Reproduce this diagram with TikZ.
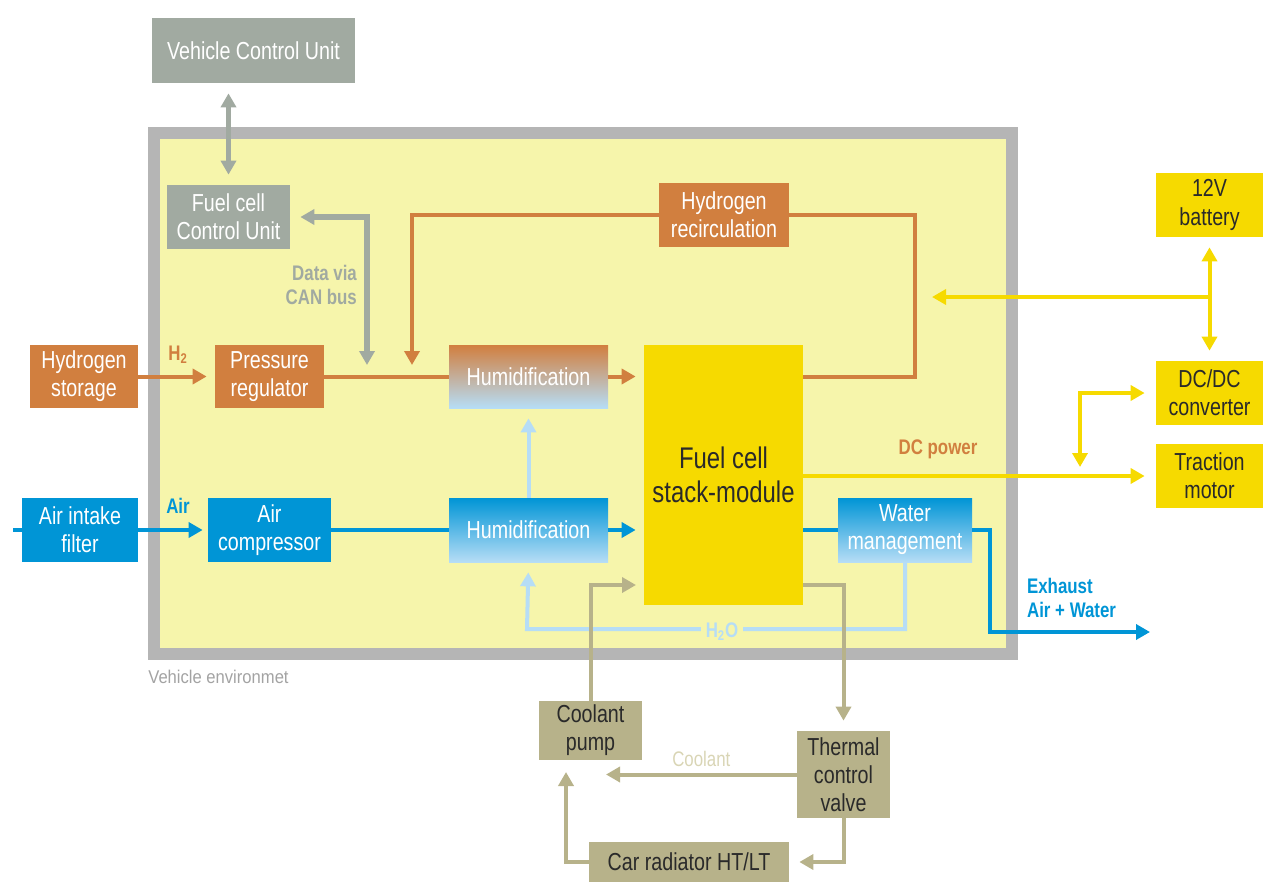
\documentclass[tikz,border=0pt]{standalone}
\usepackage{fontspec}
\setmainfont{Liberation Sans}[FakeStretch=0.8]
\newfontfamily\envfont{Liberation Sans}[FakeStretch=0.9]
\usetikzlibrary{arrows.meta}
\definecolor{envyellow}{HTML}{F6F5AB}
\definecolor{envgray}{HTML}{B5B5B5}
\definecolor{ctrlgray}{HTML}{A1AAA1}
\definecolor{h2orange}{HTML}{D17F3F}
\definecolor{airblue}{HTML}{0095D6}
\definecolor{waterblue}{HTML}{B6DDF6}
\definecolor{stackyellow}{HTML}{F6DA00}
\definecolor{coolkhaki}{HTML}{B7B28A}
\definecolor{coollight}{HTML}{D9D5B5}
\definecolor{darktext}{HTML}{2A2A2A}
\tikzset{
  sz/.style 2 args={minimum width=#1*0.02cm, minimum height=#2*0.02cm},
  blk/.style={inner sep=0pt, align=center, text=white, font=\fontsize{14}{16}\selectfont},
  ctrl/.style={blk, fill=ctrlgray},
  h2box/.style={blk, fill=h2orange},
  airbox/.style={blk, fill=airblue},
  coolbox/.style={blk, fill=coolkhaki, text=darktext},
  powbox/.style={blk, fill=stackyellow, text=darktext},
  lbl/.style={inner sep=1pt, align=center, font=\fontsize{12}{14}\selectfont\bfseries},
  garr/.style={draw=ctrlgray, line width=0.11cm},
  harr/.style={draw=h2orange, line width=0.08cm},
  aarr/.style={draw=airblue, line width=0.08cm},
  warr/.style={draw=waterblue, line width=0.08cm},
  carr/.style={draw=coolkhaki, line width=0.08cm},
  parr/.style={draw=stackyellow, line width=0.08cm}
}
\begin{document}
\begin{tikzpicture}[x=0.02cm, y=-0.02cm, >={Triangle[length=0.28cm,width=0.3cm]}]
\useasboundingbox (0,0) rectangle (1268,882);
% vehicle environment
\path[fill=envyellow, draw=envgray, line width=0.24cm] (154,133) rectangle (1012,654);
\node[anchor=west, inner sep=0pt, text=envgray!90!black, font=\envfont\fontsize{10.5}{12}\selectfont] (env) at (148,677) {Vehicle environmet};

% control units
\node[ctrl, sz={203}{65}] (vcu) at (253.5,50.5) {Vehicle Control Unit};
\node[ctrl, sz={123}{64}] (fccu) at (228.5,217) {Fuel cell\\Control Unit};

% hydrogen side
\node[h2box, sz={108}{63}] (h2st) at (84,376.5) {Hydrogen\\storage};
\node[h2box, sz={109}{63}] (preg) at (269.5,376.5) {Pressure\\regulator};
\node[blk, top color=h2orange, bottom color=waterblue, sz={159}{63}] (humh) at (528.5,376.5) {Humidification};
\node[h2box, sz={130}{64}] (recirc) at (724,215) {Hydrogen\\recirculation};

% stack
\node[blk, fill=stackyellow, text=darktext, sz={159}{260}, font=\fontsize{17}{19}\selectfont] (stack) at (723.5,475) {Fuel cell\\stack-module};

% air side
\node[airbox, sz={116}{64}] (filter) at (80,530) {Air intake\\filter};
\node[airbox, sz={123}{64}] (comp) at (269.5,530) {Air\\compressor};
\node[blk, top color=airblue, bottom color=waterblue, sz={159}{64}] (huma) at (528.5,530) {Humidification};
\node[blk, top color=airblue, bottom color=waterblue, sz={134}{64}] (water) at (905,530) {Water\\management};

% coolant circuit
\node[coolbox, sz={103}{59}] (pump) at (590.5,730.5) {Coolant\\pump};
\node[coolbox, sz={93}{87}] (valve) at (843.5,774.5) {Thermal\\control\\valve};
\node[coolbox, sz={200}{40}] (rad) at (689,862) {Car radiator HT/LT};

% electrical side
\node[powbox, sz={107}{64}] (bat) at (1209.5,205) {12V\\battery};
\node[powbox, sz={107}{64}] (dcdc) at (1209.5,393) {DC/DC\\converter};
\node[powbox, sz={107}{64}] (motor) at (1209.5,476) {Traction\\motor};

% data lines
\draw[garr, <->, shorten <=0.2cm, shorten >=0.2cm] (fccu.north) -- (fccu.north |- vcu.south);
\coordinate (can) at (367,365);
\draw[garr, <->, shorten <=0.2cm] (fccu.east) -| (can);
\node[lbl, text=ctrlgray, align=right, anchor=east] (canlbl) at (359,285) {Data via\\CAN bus};

% hydrogen lines
\draw[harr, ->, shorten >=0.16cm] (h2st.east) -- (preg.west);
\node[lbl, text=h2orange] (h2lbl) at (178,355) {H\textsubscript{2}};
\draw[harr] (preg.east) -- (humh.west);
\draw[harr, ->, shorten >=0.16cm] (humh.east) -- (humh.east -| stack.west);
\coordinate (rcR) at (915,215);
\coordinate (rcL) at (412,365);
\draw[harr] (humh.east -| stack.east) -| (rcR) -- (recirc.east);
\draw[harr, ->] (recirc.west) -| (rcL);

% air lines
\coordinate (airin) at (13,530);
\draw[aarr] (airin) -- (filter.west);
\draw[aarr, ->, shorten >=0.1cm] (filter.east) -- (comp.west);
\node[lbl, text=airblue] (airlbl) at (178,506) {Air};
\draw[aarr] (comp.east) -- (huma.west);
\draw[aarr, ->, shorten >=0.16cm] (huma.east) -- (huma.east -| stack.west);
\draw[warr, ->, shorten >=0.2cm] (huma.north) -- (humh.south);
\draw[aarr] (stack.east |- water.west) -- (water.west);
\coordinate (exh) at (1150,632);
\draw[aarr, ->] (water.east) -- ++(18,0) |- (exh);
\node[lbl, text=airblue, align=left, anchor=west] (exhlbl) at (1025,598) {Exhaust\\Air + Water};

% water return
\coordinate (h2oB) at (527,629);
\draw[warr, ->, shorten >=0.2cm] (water.south) |- (h2oB) -- (huma.south);
\node[lbl, text=waterblue, fill=envyellow, inner sep=3pt] (h2olbl) at (722,632) {H\textsubscript{2}O};

% coolant lines
\coordinate (cin) at (636,585);
\draw[carr, ->] (pump.north) |- (cin);
\draw[carr, ->, shorten >=0.2cm] ([yshift=0.4cm]stack.south east) -| (valve.north);
\coordinate (cret) at (606,777);
\draw[carr, ->] (valve.west) -- node[above, text=coollight, font=\fontsize{12}{14}\selectfont]{Coolant} (valve.west -| cret);
\draw[carr, ->, shorten >=0.2cm] (valve.south) |- (rad.east);
\coordinate (cup) at (566,772);
\draw[carr, ->] (rad.west) -| (cup);

% power lines
\draw[parr, <->, shorten <=0.2cm, shorten >=0.2cm] (bat.south) -- (dcdc.north);
\coordinate (dcin) at (932,297);
\draw[parr, ->] (bat.south |- dcin) -- (dcin);
\draw[parr, ->, shorten >=0.22cm] (stack.east |- motor.west) -- (motor.west);
\node[lbl, text=h2orange] (dclbl) at (938,449) {DC power};
\coordinate (dcj) at (1080,467);
\draw[parr, <->, shorten <=0.22cm] (dcdc.west) -| (dcj);
\end{tikzpicture}
\end{document}
